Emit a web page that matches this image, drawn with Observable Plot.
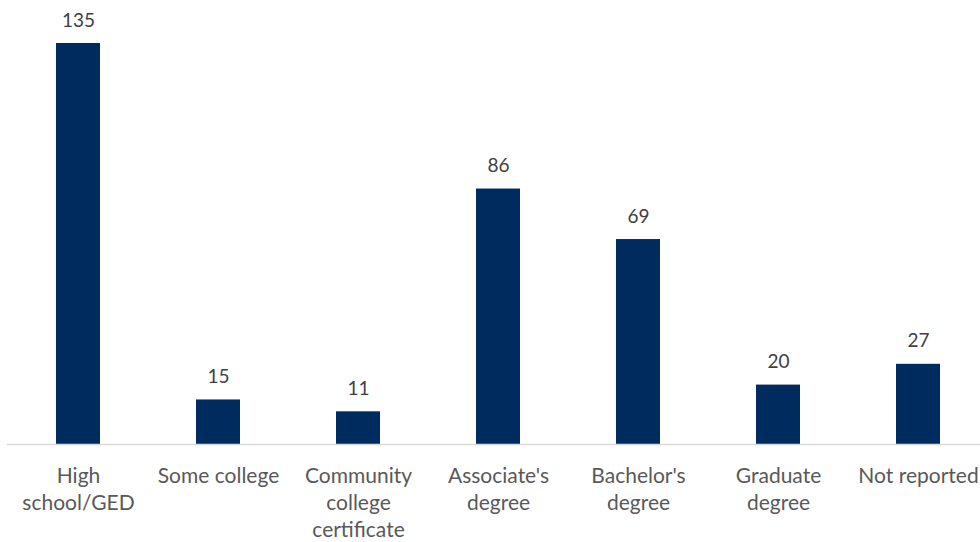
<!DOCTYPE html>
<html>
<head>
<meta charset="utf-8">
<script src="https://cdn.jsdelivr.net/npm/d3@7"></script>
<script src="https://cdn.jsdelivr.net/npm/@observablehq/plot@0.6"></script>
<style>
  html, body { margin: 0; padding: 0; background: #fff; }
  #chart svg { display: block; }
</style>
</head>
<body>
<div id="chart"></div>
<script>
const categories = ["High school/GED", "Some college", "Community college certificate", "Associate's degree", "Bachelor's degree", "Graduate degree", "Not reported"];
const tickLabels = ["High\nschool/GED", "Some college", "Community\ncollege\ncertificate", "Associate's\ndegree", "Bachelor's\ndegree", "Graduate\ndegree", "Not reported"];
const values = [135, 15, 11, 86, 69, 20, 27];

const data = categories.map((c, i) => ({category: c, value: values[i]}));
const labelOf = new Map(categories.map((c, i) => [c, tickLabels[i]]));

const chart = Plot.plot({
  width: 980,
  height: 542,
  marginLeft: 7,
  marginRight: 0,
  marginTop: 0,
  marginBottom: 98,
  style: {fontFamily: "Lato, 'Open Sans', sans-serif", background: "#fff"},
  x: {domain: categories, range: [7, 989], padding: 0, label: null},
  y: {domain: [0, 135], range: [444, 43], axis: null},
  marks: [
    Plot.barY(data, {x: "category", y: "value", fill: "#002B5F", insetLeft: 48, insetRight: 48}),
    Plot.ruleY([0], {stroke: "#d9d9d9", strokeWidth: 1.5}),
    Plot.text(data, {x: "category", y: "value", text: d => String(d.value), dy: -23, fontSize: 19, fill: "#404040"}),
    Plot.axisX({tickSize: 0, tickPadding: 19, fontSize: 21, lineHeight: 1.29, fill: "#595959", tickFormat: d => labelOf.get(d), label: null})
  ]
});
document.getElementById("chart").appendChild(chart);
</script>
</body>
</html>
